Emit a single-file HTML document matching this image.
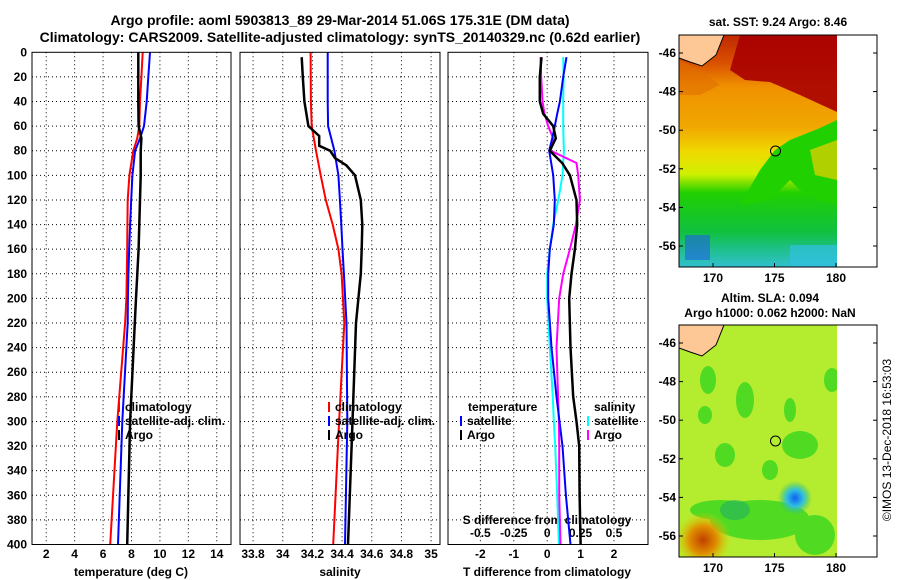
<!DOCTYPE html>
<html><head><meta charset="utf-8"><style>
html,body{margin:0;padding:0;background:#fff;}
svg{display:block;font-family:"Liberation Sans",sans-serif;font-weight:bold;}
</style></head><body>
<svg id="c" width="900" height="580" viewBox="0 0 900 580" xmlns="http://www.w3.org/2000/svg">
<defs>
<linearGradient id="sstg" x1="0" y1="0" x2="0" y2="1">
<stop offset="0" stop-color="#c02800"/><stop offset="0.12" stop-color="#d85000"/><stop offset="0.22" stop-color="#f09000"/>
<stop offset="0.4" stop-color="#f0a800"/><stop offset="0.5" stop-color="#f0d800"/><stop offset="0.6" stop-color="#d0f000"/>
<stop offset="0.68" stop-color="#20d000"/><stop offset="0.85" stop-color="#10c040"/><stop offset="0.93" stop-color="#20c090"/><stop offset="1" stop-color="#30c0d0"/>
</linearGradient>
<radialGradient id="blueb"><stop offset="0" stop-color="#1060f0"/><stop offset="0.5" stop-color="#30c0e0"/><stop offset="1" stop-color="#30c070" stop-opacity="0"/></radialGradient>
<radialGradient id="orb"><stop offset="0" stop-color="#c04000"/><stop offset="0.5" stop-color="#e09000"/><stop offset="1" stop-color="#e0d000" stop-opacity="0"/></radialGradient>
<clipPath id="m1"><rect x="679" y="35" width="158" height="232"/></clipPath>
<clipPath id="m2"><rect x="679" y="325" width="158" height="232"/></clipPath>
</defs>
<text x="340" y="25" text-anchor="middle" font-size="14">Argo profile: aoml 5903813_89 29-Mar-2014 51.06S 175.31E (DM data)</text>
<text x="340" y="42" text-anchor="middle" font-size="14">Climatology: CARS2009. Satellite-adjusted climatology: synTS_20140329.nc (0.62d earlier)</text>
<g id="panels"></g>
<g id="maps">
<g clip-path="url(#m1)">
<rect x="679" y="35" width="158" height="232" fill="url(#sstg)"/>
<polygon points="740,35 837,35 837,112 800,95 770,82 745,80 730,70" fill="#a80000" opacity="0.9"/>
<polygon points="679,60 700,70 720,85 700,95 679,95" fill="#e07000" opacity="0.6"/>
<polygon points="790,140 820,128 837,120 837,205 820,200 800,190 790,180 770,200 740,205 760,170 775,150" fill="#20d000"/>
<polygon points="810,150 837,140 837,180 815,175" fill="#f0d000" opacity="0.7"/>
<rect x="685" y="235" width="25" height="25" fill="#2060e0" opacity="0.6"/>
<rect x="790" y="245" width="47" height="22" fill="#30c0e0" opacity="0.7"/>
<polygon points="679,35 724,35 716,55 702,66 690,62 679,58" fill="#fdc896" stroke="#000" stroke-width="1"/>
<circle cx="775.5" cy="151" r="5" fill="none" stroke="#000"/>
</g>
<rect x="679" y="35" width="198" height="232" fill="none" stroke="#000"/>
<g clip-path="url(#m2)">
<rect x="679" y="325" width="158" height="232" fill="#b4ec30"/>
<g fill="#40d820" opacity="0.85">
<ellipse cx="708" cy="380" rx="8" ry="14"/><ellipse cx="745" cy="400" rx="9" ry="18"/><ellipse cx="790" cy="410" rx="6" ry="12"/>
<ellipse cx="800" cy="445" rx="18" ry="14"/><ellipse cx="725" cy="455" rx="10" ry="12"/><ellipse cx="832" cy="380" rx="8" ry="12"/>
<ellipse cx="705" cy="415" rx="7" ry="9"/><ellipse cx="770" cy="470" rx="8" ry="10"/><ellipse cx="760" cy="520" rx="50" ry="20"/>
<ellipse cx="815" cy="535" rx="20" ry="20"/><ellipse cx="720" cy="510" rx="30" ry="10"/>
</g>
<ellipse cx="735" cy="510" rx="15" ry="10" fill="#20b060" opacity="0.6"/>
<circle cx="795" cy="498" r="17" fill="url(#blueb)"/>
<circle cx="703" cy="540" r="28" fill="url(#orb)"/>
<polygon points="679,325 724,325 716,345 702,356 690,352 679,348" fill="#fdc896" stroke="#000" stroke-width="1"/>
<circle cx="775.5" cy="441" r="5" fill="none" stroke="#000"/>
</g>
<rect x="679" y="325" width="198" height="232" fill="none" stroke="#000"/>
<text x="778" y="26" text-anchor="middle" font-size="12">sat. SST: 9.24 Argo: 8.46</text>
<text x="770" y="302" text-anchor="middle" font-size="12">Altim. SLA: 0.094</text>
<text x="770" y="317" text-anchor="middle" font-size="12">Argo h1000: 0.062 h2000: NaN</text>
<text transform="translate(891,440) rotate(-90)" text-anchor="middle" font-size="12" font-weight="normal">©IMOS 13-Dec-2018 16:53:03</text>
</g>
</svg>
<script>
const depths=[0,20,40,60,70,80,100,120,140,160,180,200,220,300,400];
const tArgo=[8.48,8.48,8.48,8.5,8.7,8.65,8.65,8.6,8.55,8.5,8.41,8.32,8.23,7.9,7.7];
const tClim=[8.79,8.7,8.6,8.55,8.4,8.13,7.85,7.73,7.71,7.7,7.67,7.64,7.55,7.0,6.5];
const tSat=[9.3,9.18,9.07,8.88,8.6,8.25,8.06,7.98,7.9,7.84,7.78,7.75,7.73,7.35,7.05];
const sDepths=[4,20,40,60,68,76,80,86,92,100,120,140,160,180,200,220,300,400];
const sArgo=[34.128,34.135,34.146,34.173,34.246,34.246,34.319,34.352,34.43,34.487,34.526,34.536,34.532,34.526,34.51,34.494,34.47,34.44];
const cDepths=[0,40,60,80,100,120,140,160,180,220,300,400];
const sClim=[34.188,34.19,34.195,34.224,34.256,34.29,34.337,34.375,34.397,34.415,34.38,34.34];
const sSat=[34.303,34.303,34.306,34.348,34.375,34.385,34.395,34.403,34.412,34.43,34.435,34.42];
const dDepths=[4,20,40,50,60,70,80,90,100,120,140,160,180,200,240,280,300,320,360,400];
const dTArgo=[-0.17,-0.22,-0.22,-0.12,0.18,0.26,0.08,0.45,0.68,0.88,0.9,0.83,0.73,0.66,0.7,0.78,0.88,0.96,0.97,1.0];
const dTSat=[0.58,0.48,0.38,0.3,0.23,0.15,0.06,0.12,0.18,0.23,0.2,0.08,0.03,0.03,0.13,0.28,0.37,0.46,0.56,0.7];
const dSArgo=[-0.05,-0.045,-0.035,-0.02,0.008,0.045,0.025,0.22,0.232,0.245,0.215,0.17,0.12,0.09,0.07,0.082,0.088,0.09,0.09,0.1];
const dSSat=[0.12,0.123,0.12,0.12,0.12,0.122,0.125,0.12,0.115,0.083,0.045,0.02,0,0,0.02,0.042,0.05,0.06,0.075,0.088];
const yTicks=[0,20,40,60,80,100,120,140,160,180,200,220,240,260,280,300,320,340,360,380,400];
const tTicks=[2,4,6,8,10,12,14];
const sTicks=["33.8","34","34.2","34.4","34.6","34.8","35"];
const dTicks=["-2","-1","0","1","2"];
const dsTicks=["-0.5","-0.25","0","0.25","0.5"];

const NS="http://www.w3.org/2000/svg";
const G=document.getElementById('panels');
function mk(tag,at,parent){const e=document.createElementNS(NS,tag);for(const k in at)e.setAttribute(k,at[k]);(parent||G).appendChild(e);return e;}
const Y0=52.3,Y1=544.5;
function yS(d){return Y0+(d/400)*(Y1-Y0);}
function lin(a,b,x0,x1){return v=>x0+(v-a)/(b-a)*(x1-x0);}
const P=[{x0:32,x1:231,f:lin(1,15,32,231)},{x0:240,x1:440,f:lin(33.712,35.06,240,440)},{x0:448,x1:648,f:lin(-2.97,3.02,448,648)}];
const fS=lin(-0.7425,0.755,448,648);

// y tick labels
yTicks.forEach(d=>{const t=mk('text',{x:27,y:yS(d)+4,'text-anchor':'end','font-size':12});


t.textContent=d;});

P.forEach((p,i)=>{
  yTicks.forEach(d=>{if(d>0&&d<400){const l=mk('line',{x1:p.x0,x2:p.x1,y1:yS(d),y2:yS(d),stroke:'#000','stroke-dasharray':'1,3','stroke-width':1});
  
  }});
});
function vgrid(p,vals,labels,y,name){vals.forEach((v,k)=>{const x=p.f(+v);
  const l=mk('line',{x1:x,x2:x,y1:Y0,y2:Y1,stroke:'#000','stroke-dasharray':'1,3'});
  
  
  const t=mk('text',{x:x,y:y,'text-anchor':'middle','font-size':12});
  
  
  t.textContent=labels[k];});}
vgrid(P[0],tTicks,tTicks,558,'temperature-tick-label');
vgrid(P[1],sTicks,sTicks,558,'salinity-tick-label');
vgrid(P[2],dTicks,dTicks,558,'t-diff-tick-label');
dsTicks.forEach(v=>{const t=mk('text',{x:fS(+v),y:537,'text-anchor':'middle','font-size':12});


t.textContent=v;});
const sdt=mk('text',{x:547,y:524,'text-anchor':'middle','font-size':12});


sdt.textContent='S difference from climatology';

function line(ds,vs,f,col,w,name){const pts=ds.map((d,i)=>f(vs[i]).toFixed(1)+','+yS(d).toFixed(1)).join(' ');
  const e=mk('polyline',{points:pts,fill:'none',stroke:col,'stroke-width':w});
  
  }
line(depths,tClim,P[0].f,'#f00',2,'temp-climatology-line');
line(depths,tSat,P[0].f,'#00f',2,'temp-satellite-line');
line(depths,tArgo,P[0].f,'#000',2.5,'temp-argo-line');
line(cDepths,sClim,P[1].f,'#f00',2,'sal-climatology-line');
line(cDepths,sSat,P[1].f,'#00f',2,'sal-satellite-line');
line(sDepths,sArgo,P[1].f,'#000',2.5,'sal-argo-line');
line(dDepths,dSSat,fS,'#0ff',2,'sdiff-satellite-line');
line(dDepths,dSArgo,fS,'#f0f',2,'sdiff-argo-line');
line(dDepths,dTSat,P[2].f,'#00f',2,'tdiff-satellite-line');
line(dDepths,dTArgo,P[2].f,'#000',2.5,'tdiff-argo-line');

P.forEach(p=>{const r=mk('rect',{x:p.x0,y:Y0,width:p.x1-p.x0,height:Y1-Y0,fill:'none',stroke:'#000'});

});

function lab(x,y,txt,name,anchor){const t=mk('text',{x:x,y:y,'font-size':12,'text-anchor':anchor||'start'});


t.textContent=txt;return t;}
lab(131,576,'temperature (deg C)','temperature-axis-title','middle');
lab(340,576,'salinity','salinity-axis-title','middle');
lab(547,576,'T difference from climatology','t-diff-axis-title','middle');

function leg(x,y,col,txt,name){const m=mk('line',{x1:x,x2:x,y1:y-9,y2:y+1,stroke:col,'stroke-width':2});


lab(x+6,y,txt,name);}
leg(119,411,'#f00','climatology','legend-temp-climatology');
leg(119,425,'#00f','satellite-adj. clim.','legend-temp-satellite');
leg(119,439,'#000','Argo','legend-temp-argo');
leg(329,411,'#f00','climatology','legend-sal-climatology');
leg(329,425,'#00f','satellite-adj. clim.','legend-sal-satellite');
leg(329,439,'#000','Argo','legend-sal-argo');
lab(468,411,'temperature','legend-temp-header');
leg(461,425,'#00f','satellite','legend-tdiff-satellite');
leg(461,439,'#000','Argo','legend-tdiff-argo');
lab(594,411,'salinity','legend-sal-header');
leg(588,425,'#0ff','satellite','legend-sdiff-satellite');
leg(588,439,'#f0f','Argo','legend-sdiff-argo');

// map axes
const lats=[-46,-48,-50,-52,-54,-56];
const lons=[170,175,180];
const M=document.getElementById('maps');
function latY(l,top){return top+18+(-46-l)*19.3;}
function lonX(l){return 713+(l-170)*12.3;}
[35,325].forEach((top,mi)=>{
  lats.forEach(l=>{const y=latY(l,top);
    const t=mk('text',{x:676,y:y+4,'text-anchor':'end','font-size':12},M);
    
    
    t.textContent=l;
    mk('line',{x1:679,x2:683,y1:y,y2:y,stroke:'#000'},M);
    mk('line',{x1:873,x2:877,y1:y,y2:y,stroke:'#000'},M);});
  lons.forEach(l=>{const x=lonX(l);
    const t=mk('text',{x:x,y:top+247,'text-anchor':'middle','font-size':12},M);
    
    
    t.textContent=l;
    mk('line',{x1:x,x2:x,y1:top+228,y2:top+232,stroke:'#000'},M);});
});
</script>
</body></html>
